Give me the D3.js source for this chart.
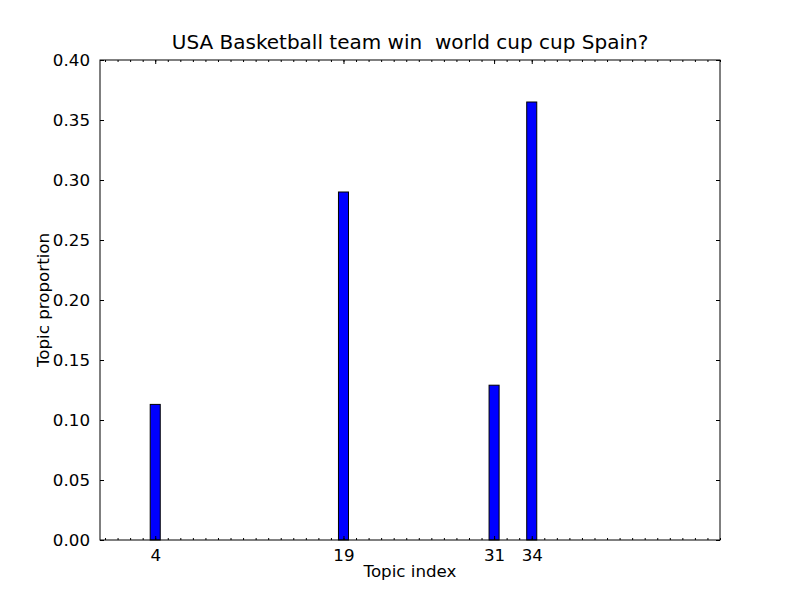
<!DOCTYPE html>
<html>
<head>
<meta charset="utf-8">
<script src="https://cdn.jsdelivr.net/npm/d3@7"></script>
<style>
  body { margin: 0; background: #fff; }
  text { font-family: "DejaVu Sans", sans-serif; }
</style>
</head>
<body>
<div id="chart"></div>
<script>
/* Topic proportions bar chart */

const topics = [4, 19, 31, 34];
const proportions = [0.113, 0.29, 0.129, 0.365];
const yTicks = [0, 0.05, 0.10, 0.15, 0.20, 0.25, 0.30, 0.35, 0.40];
const nTopics = 50;

const width = 800, height = 600;
const margin = { top: 60, right: 80, bottom: 60, left: 100 };
const barW = 0.8;

let svg = d3.select("#chart")
    .append("svg")
    .attr("width", width)
    .attr("height", height);

const x = d3.scaleLinear()
    .domain([0, nTopics - 1 + 0.4])
    .range([margin.left, width - margin.right]);

const y = d3.scaleLinear()
    .domain([0, 0.4])
    .range([height - margin.bottom, margin.top]);

// bars
svg.selectAll(".bar")
    .data(topics)
    .join("rect")
    .attr("class", "bar")
    .attr("x", (d) => x(d))
    .attr("width", x(barW) - x(0))
    .attr("y", (d, i) => y(proportions[i]))
    .attr("height", (d, i) => y(0) - y(proportions[i]))
    .attr("fill", "#0000ff")
    .attr("stroke", "#000")
    .attr("stroke-width", 1);

// ticks all point inward, matplotlib style
const minor = d3.range(nTopics).map(i => i + 0.4);
const major = topics.map(t => t + 0.4);

svg.append("g")
    .attr("transform", `translate(0,${y(0)})`)
    .call(d3.axisBottom(x).tickValues(minor).tickSize(-2).tickFormat(""))
    .call(g => g.select(".domain").remove());
svg.append("g")
    .attr("transform", `translate(0,${y(0)})`)
    .call(d3.axisBottom(x).tickValues(major).tickSize(-4).tickPadding(9)
        .tickFormat((d, i) => topics[i]))
    .call(g => g.select(".domain").remove());

svg.append("g")
    .attr("transform", `translate(0,${y(0.4)})`)
    .call(d3.axisTop(x).tickValues(minor).tickSize(-2).tickFormat(""))
    .call(g => g.select(".domain").remove());
svg.append("g")
    .attr("transform", `translate(0,${y(0.4)})`)
    .call(d3.axisTop(x).tickValues(major).tickSize(-4).tickFormat(""))
    .call(g => g.select(".domain").remove());

svg.append("g")
    .attr("transform", `translate(${x.range()[0]},0)`)
    .call(d3.axisLeft(y).tickValues(yTicks).tickSize(-4).tickPadding(10)
        .tickFormat(d3.format(".2f")))
    .call(g => g.select(".domain").remove());
svg.append("g")
    .attr("transform", `translate(${x.range()[1]},0)`)
    .call(d3.axisRight(y).tickValues(yTicks).tickSize(-4).tickFormat(""))
    .call(g => g.select(".domain").remove());

svg.selectAll(".tick text")
    .style("font-size", "16.7px")
    .style("font-family", "DejaVu Sans, sans-serif")
    .attr("fill", "#000");
svg.selectAll(".tick line").attr("stroke", "#000");

// frame
svg.append("rect")
    .attr("x", x.range()[0])
    .attr("y", y(0.4))
    .attr("width", x.range()[1] - x.range()[0])
    .attr("height", y(0) - y(0.4))
    .attr("fill", "none")
    .attr("stroke", "#000")
    .attr("stroke-width", 1);

svg.append("text")
    .attr("x", (x.range()[0] + x.range()[1]) / 2)
    .attr("y", 49)
    .attr("text-anchor", "middle")
    .style("font-size", "20px")
    .style("white-space", "pre")
    .text("USA Basketball team win  world cup cup Spain?");

svg.append("text")
    .attr("x", (x.range()[0] + x.range()[1]) / 2)
    .attr("y", 577)
    .attr("text-anchor", "middle")
    .style("font-size", "16.7px")
    .text("Topic index");

svg.append("text")
    .attr("transform", `translate(49,${(y(0) + y(0.4)) / 2}) rotate(-90)`)
    .attr("text-anchor", "middle")
    .style("font-size", "16.7px")
    .text("Topic proportion");
</script>
</body>
</html>
